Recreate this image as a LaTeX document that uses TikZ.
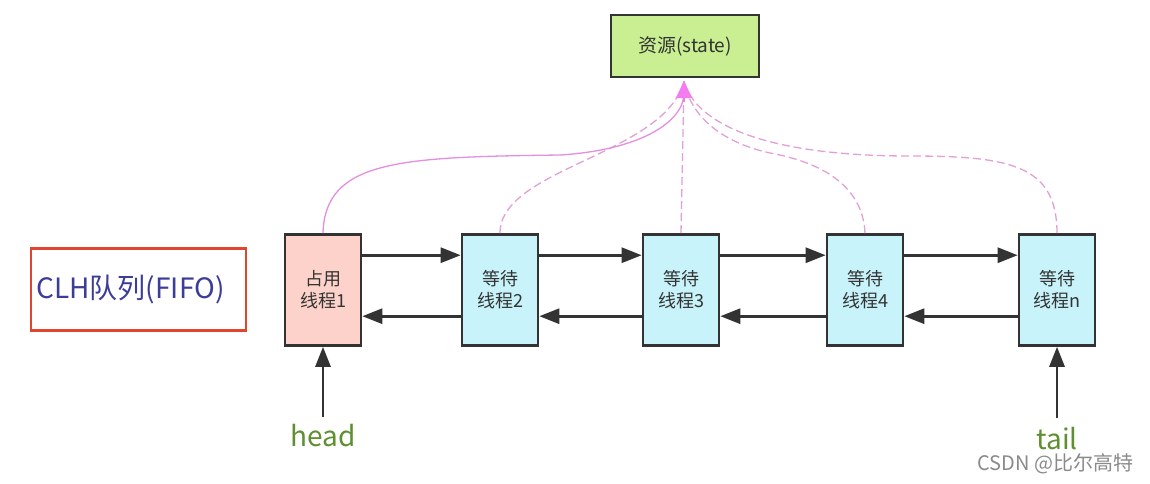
\documentclass[tikz,border=0pt]{standalone}
\usepackage{fontspec}
\setmainfont{Noto Sans CJK SC}
\usetikzlibrary{arrows.meta,calc}
\definecolor{resgreen}{HTML}{C9EF92}
\definecolor{holdpink}{HTML}{FCD2CA}
\definecolor{waitcyan}{HTML}{C8F3FA}
\definecolor{edgedark}{HTML}{333333}
\definecolor{linkpink}{HTML}{E48FE0}
\definecolor{dashpink}{HTML}{E2A0D6}
\definecolor{tippink}{HTML}{F27CF0}
\definecolor{clhred}{HTML}{E0452E}
\definecolor{clhblue}{HTML}{3B3D98}
\definecolor{labgreen}{HTML}{5E8F30}
\definecolor{markgray}{HTML}{8A8A8A}
\begin{document}
\begin{tikzpicture}[x=1pt,y=-1pt,
  box/.style={draw=edgedark,line width=2.6pt,minimum width=76pt,minimum height=111pt,inner sep=0pt,
    font=\fontsize{18}{22}\selectfont,text=edgedark,align=center},
  link/.style={draw=edgedark,line width=2.8pt,-{Triangle[length=20pt,width=15pt]}},
  wait/.style={dashpink,line width=1.3pt,dash pattern=on 8pt off 4pt},
  hold/.style={linkpink,line width=1.3pt},
  lab/.style={font=\fontsize{28}{32}\selectfont,text=labgreen}]
\useasboundingbox (0,0) rectangle (1150,483);
\fill[white] (0,0) rectangle (1150,483);
\node[draw=edgedark,line width=2.6pt,fill=resgreen,minimum width=148pt,minimum height=62pt,
  font=\fontsize{19}{22}\selectfont,text=edgedark] (res) at (685,46) {资源(state)};
\node[draw=clhred,line width=2.6pt,minimum width=215pt,minimum height=82pt,
  font=\fontsize{28}{32}\selectfont,text=clhblue] (clh) at (138.5,289.5) {CLH队列(FIFO)\hspace*{16pt}};
\node[box,fill=holdpink] (n1) at (323,290) {占用\\线程1};
\node[box,fill=waitcyan] (n2) at (500,290) {等待\\线程2};
\node[box,fill=waitcyan] (n3) at (681,290) {等待\\线程3};
\node[box,fill=waitcyan] (n4) at (865,290) {等待\\线程4};
\node[box,fill=waitcyan] (n5) at (1057,290) {等待\\线程n};
\foreach \a/\b in {n1/n2,n2/n3,n3/n4,n4/n5}{
  \draw[link] ($(\a.north east)+(0,22)$) -- ($(\b.north west)+(0,22)$);
  \draw[link] ($(\b.north west)+(0,83)$) -- ($(\a.north east)+(0,83)$);
}
\node[lab] (head) at (323,436) {head};
\node[lab] (tail) at (1057,439) {tail};
\draw[link] (head.north) ++(0,-4) coordinate (hs) -- (n1.south);
\draw[link] (tail.north) ++(0,-6) coordinate (ts) -- (n5.south);
\coordinate (tip) at (684,81);
\draw[wait] (n2.north) .. controls (500,168) and (665,155) .. (tip);
\draw[wait] (n3.north) -- (tip);
\draw[wait] (n4.north) .. controls (863,185) and (820,162) .. (770,153) .. controls (720,142) and (690,115) .. (tip);
\draw[wait] (n5.north) .. controls (1057,165) and (1010,156) .. (910,156) .. controls (760,156) and (695,122) .. (tip);
\draw[hold] (n1.north) .. controls (325,160) and (400,157) .. (560,155)
  .. controls (640,150) and (684,122) .. ($(tip)+(0,12)$);
\draw[hold,-{Triangle[length=17pt,width=16pt]},tippink] (684,102) -- (tip);
\node[font=\fontsize{20}{24}\selectfont,text=markgray,anchor=east] (mark) at (1137,464) {CSDN @比尔高特};
\end{tikzpicture}
\end{document}
